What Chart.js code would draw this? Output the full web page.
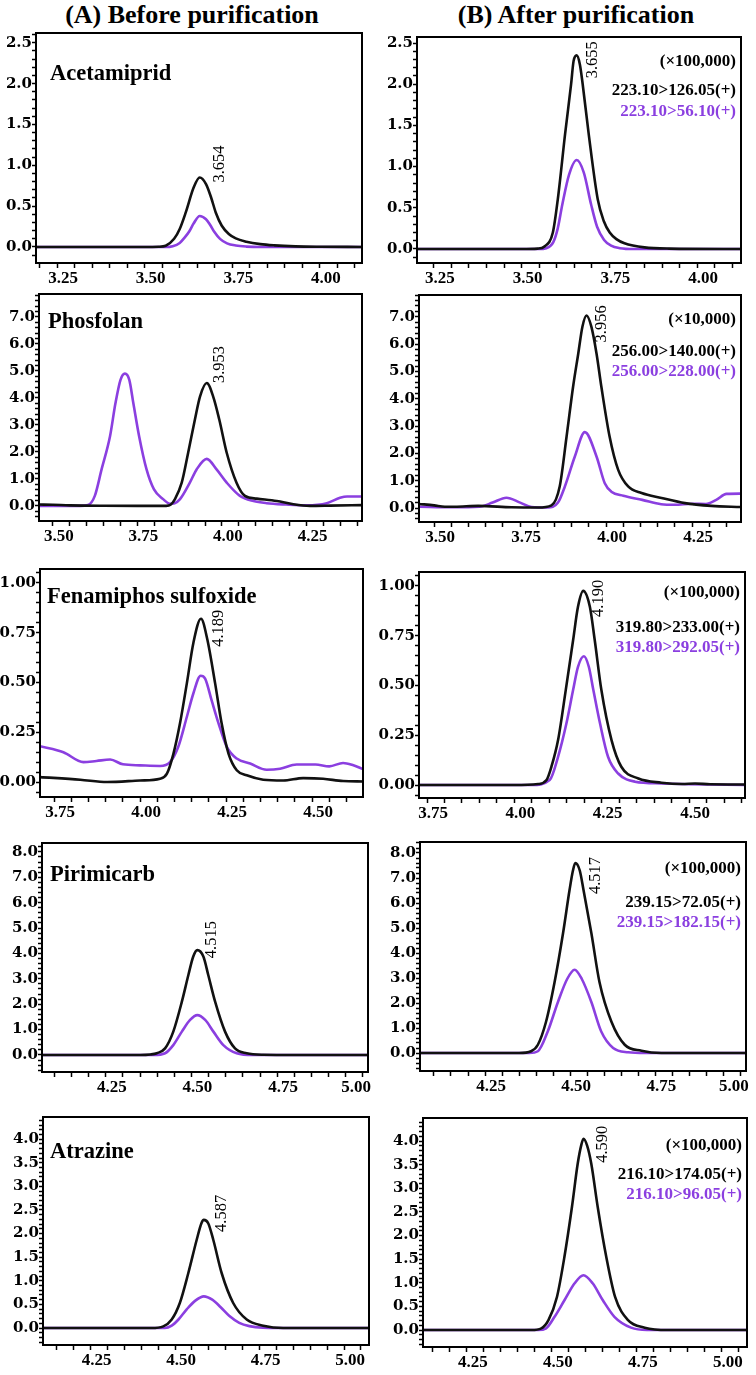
<!DOCTYPE html>
<html><head><meta charset="utf-8">
<script src="https://cdn.jsdelivr.net/npm/chart.js@4.4.1/dist/chart.umd.min.js"></script>
<style>
html,body{margin:0;padding:0;background:#fff;}
body{width:756px;height:1375px;position:relative;overflow:hidden;font-family:"Liberation Serif","Times New Roman",serif;}
.title{position:absolute;top:1px;font-weight:bold;font-size:26px;text-align:center;width:378px;line-height:28px;color:#000;white-space:nowrap;}
canvas{position:absolute;}
</style></head><body>
<div class="title" style="left:3px">(A) Before purification</div>
<div class="title" style="left:387px">(B) After purification</div>
<script>
// ---------- tick labels ----------
const xLabelsRow1 = ['3.25','3.50','3.75','4.00'];
const xLabelsRow2 = ['3.50','3.75','4.00','4.25'];
const xLabelsRow3 = ['3.75','4.00','4.25','4.50'];
const xLabelsRow4 = ['4.25','4.50','4.75','5.00'];
const xLabelsRow5 = ['4.25','4.50','4.75','5.00'];
const yLabelsRow1 = ['0.0','0.5','1.0','1.5','2.0','2.5'];
const yLabelsRow2 = ['0.0','1.0','2.0','3.0','4.0','5.0','6.0','7.0'];
const yLabelsRow3 = ['0.00','0.25','0.50','0.75','1.00'];
const yLabelsRow4 = ['0.0','1.0','2.0','3.0','4.0','5.0','6.0','7.0','8.0'];
const yLabelsRow5 = ['0.0','0.5','1.0','1.5','2.0','2.5','3.0','3.5','4.0'];

// ---------- compounds / texts ----------
const compounds = ['Acetamiprid','Phosfolan','Fenamiphos sulfoxide','Pirimicarb','Atrazine'];
const peakLabelsBefore = ['3.654','3.953','4.189','4.515','4.587'];
const peakLabelsAfter  = ['3.655','3.956','4.190','4.517','4.590'];
const scaleFactors = ['(×100,000)','(×10,000)','(×100,000)','(×100,000)','(×100,000)'];
const quantTransitions = ['223.10>126.05(+)','256.00>140.00(+)','319.80>233.00(+)','239.15>72.05(+)','216.10>174.05(+)'];
const qualTransitions  = ['223.10>56.10(+)','256.00>228.00(+)','319.80>292.05(+)','239.15>182.15(+)','216.10>96.05(+)'];

// ---------- series (retention time, intensity) ----------
const acetBeforeQ = [[3.19,0],[3.50,0],[3.54,0.003],[3.56,0.015],[3.584,0.1],[3.60,0.22],[3.617,0.42],[3.64,0.73],[3.657,0.85],[3.675,0.77],[3.69,0.60],[3.703,0.42],[3.72,0.26],[3.74,0.16],[3.76,0.105],[3.79,0.065],[3.83,0.035],[3.87,0.02],[3.93,0.008],[4.0,0.003],[4.12,0]];
const acetBeforeR = [[3.19,0],[3.56,0],[3.58,0.01],[3.60,0.05],[3.615,0.12],[3.627,0.19],[3.64,0.29],[3.657,0.38],[3.675,0.34],[3.687,0.27],[3.698,0.19],[3.715,0.10],[3.735,0.045],[3.76,0.018],[3.79,0.005],[3.83,0],[4.12,0]];
const acetAfterQ = [[3.20,0],[3.50,0],[3.546,0.005],[3.565,0.03],[3.589,0.2],[3.603,0.6],[3.624,1.4],[3.641,2.0],[3.648,2.28],[3.657,2.35],[3.666,2.24],[3.674,2.0],[3.691,1.4],[3.717,0.6],[3.734,0.34],[3.751,0.2],[3.77,0.12],[3.793,0.07],[3.85,0.02],[3.92,0.005],[4.125,0]];
const acetAfterR = [[3.20,0],[3.55,0],[3.57,0.01],[3.59,0.08],[3.603,0.25],[3.616,0.54],[3.635,0.90],[3.657,1.08],[3.677,0.93],[3.698,0.54],[3.715,0.27],[3.735,0.11],[3.755,0.04],[3.78,0.01],[3.82,0],[4.125,0]];

const phosBeforeQ = [[3.459,0.05],[3.50,0.04],[3.55,0.02],[3.65,0.005],[3.75,0],[3.835,0.0],[3.848,0.04],[3.861,0.25],[3.881,0.86],[3.90,1.97],[3.92,3.2],[3.935,4.05],[3.955,4.55],[3.974,4.05],[3.992,3.2],[4.014,1.97],[4.043,0.86],[4.068,0.37],[4.103,0.27],[4.162,0.18],[4.211,0.06],[4.26,0.0],[4.32,0.01],[4.414,0.03]];
const phosBeforeR = [[3.459,0],[3.58,0],[3.604,0.03],[3.624,0.37],[3.644,1.35],[3.669,2.58],[3.685,3.8],[3.70,4.67],[3.713,4.9],[3.726,4.67],[3.738,3.8],[3.755,2.58],[3.777,1.35],[3.799,0.61],[3.826,0.25],[3.846,0.08],[3.86,0.1],[3.876,0.25],[3.905,0.86],[3.925,1.35],[3.955,1.74],[3.984,1.35],[4.014,0.86],[4.053,0.37],[4.093,0.18],[4.132,0.1],[4.19,0.05],[4.25,0.02],[4.31,0.1],[4.349,0.3],[4.37,0.35],[4.414,0.35]];
const phosAfterQ = [[3.456,0.15],[3.50,0.1],[3.531,0.05],[3.56,0.05],[3.628,0.08],[3.725,0.03],[3.802,0.02],[3.841,0.1],[3.865,0.79],[3.885,2.62],[3.904,4.45],[3.919,5.66],[3.931,6.64],[3.943,7.05],[3.957,6.64],[3.972,5.66],[3.986,4.45],[4.01,2.62],[4.035,1.4],[4.064,0.79],[4.103,0.55],[4.161,0.37],[4.229,0.18],[4.306,0.08],[4.392,0.04]];
const phosAfterR = [[3.456,0.05],[3.55,0.03],[3.632,0.05],[3.67,0.2],[3.71,0.38],[3.75,0.2],[3.783,0.04],[3.83,0.02],[3.86,0.2],[3.88,0.79],[3.909,1.89],[3.938,2.78],[3.972,1.89],[3.996,0.91],[4.015,0.6],[4.05,0.45],[4.105,0.3],[4.16,0.14],[4.2,0.12],[4.25,0.16],[4.29,0.15],[4.32,0.3],[4.35,0.52],[4.392,0.53]];

const fenaBeforeQ = [[3.709,0.025],[3.826,0.012],[3.904,0],[4.00,0.008],[4.058,0.017],[4.078,0.042],[4.097,0.143],[4.116,0.295],[4.136,0.497],[4.155,0.70],[4.177,0.82],[4.195,0.72],[4.218,0.497],[4.237,0.295],[4.257,0.143],[4.281,0.059],[4.31,0.034],[4.358,0.012],[4.416,0.008],[4.474,0.02],[4.532,0.017],[4.59,0.005],[4.648,0.003]];
const fenaBeforeR = [[3.709,0.18],[3.777,0.15],[3.835,0.10],[3.873,0.106],[3.913,0.113],[3.95,0.089],[4.00,0.084],[4.058,0.081],[4.087,0.10],[4.111,0.177],[4.136,0.328],[4.155,0.446],[4.176,0.534],[4.189,0.52],[4.208,0.41],[4.228,0.295],[4.252,0.177],[4.281,0.118],[4.32,0.093],[4.368,0.062],[4.407,0.067],[4.455,0.088],[4.51,0.088],[4.55,0.079],[4.59,0.096],[4.62,0.084],[4.648,0.065]];
const fenaAfterQ = [[3.727,0],[4.0,0],[4.068,0.005],[4.092,0.025],[4.106,0.092],[4.125,0.226],[4.147,0.477],[4.168,0.727],[4.182,0.895],[4.197,0.975],[4.216,0.895],[4.23,0.727],[4.249,0.477],[4.278,0.226],[4.306,0.092],[4.355,0.033],[4.421,0.012],[4.48,0.005],[4.517,0.008],[4.56,0.004],[4.66,0.003]];
const fenaAfterR = [[3.727,0],[4.05,0],[4.101,0.025],[4.125,0.142],[4.149,0.31],[4.168,0.477],[4.182,0.594],[4.199,0.647],[4.213,0.594],[4.226,0.477],[4.245,0.31],[4.268,0.142],[4.297,0.058],[4.345,0.017],[4.421,0.008],[4.5,0.004],[4.66,0]];

const piriBeforeQ = [[4.064,0],[4.35,0],[4.38,0.02],[4.399,0.07],[4.423,0.26],[4.447,0.92],[4.472,2.1],[4.491,3.15],[4.505,3.87],[4.517,4.13],[4.535,3.87],[4.549,3.15],[4.569,2.1],[4.598,0.92],[4.627,0.26],[4.661,0.07],[4.71,0.01],[4.8,0],[5.015,0]];
const piriBeforeR = [[4.064,0],[4.39,0],[4.423,0.07],[4.447,0.39],[4.472,0.92],[4.496,1.38],[4.517,1.57],[4.54,1.38],[4.564,0.92],[4.593,0.39],[4.632,0.07],[4.68,0],[5.015,0]];
const piriAfterQ = [[4.059,0],[4.35,0],[4.385,0.07],[4.405,0.33],[4.429,1.25],[4.454,2.83],[4.479,4.8],[4.498,6.52],[4.508,7.3],[4.515,7.6],[4.528,7.3],[4.539,6.52],[4.562,4.8],[4.586,2.83],[4.621,1.25],[4.66,0.33],[4.709,0.09],[4.768,0],[5.016,0]];
const piriAfterR = [[4.059,0],[4.38,0],[4.405,0.07],[4.434,0.86],[4.464,2.04],[4.491,2.96],[4.513,3.33],[4.534,2.96],[4.562,2.04],[4.591,0.86],[4.626,0.2],[4.67,0.03],[4.72,0],[5.016,0]];

const atraBeforeQ = [[4.109,0],[4.43,0],[4.465,0.035],[4.49,0.18],[4.514,0.53],[4.539,1.16],[4.564,1.87],[4.578,2.22],[4.585,2.29],[4.598,2.22],[4.613,1.87],[4.638,1.16],[4.672,0.53],[4.712,0.18],[4.761,0.05],[4.82,0],[5.074,0]];
const atraBeforeR = [[4.109,0],[4.47,0],[4.49,0.05],[4.51,0.18],[4.535,0.40],[4.56,0.58],[4.585,0.67],[4.61,0.6],[4.635,0.44],[4.66,0.26],[4.69,0.11],[4.72,0.04],[4.76,0.005],[4.80,0],[5.074,0]];
const atraAfterQ = [[4.121,0],[4.44,0],[4.469,0.035],[4.49,0.21],[4.515,0.7],[4.537,1.55],[4.559,2.6],[4.576,3.52],[4.586,3.9],[4.593,4.05],[4.604,3.9],[4.616,3.52],[4.635,2.6],[4.66,1.55],[4.686,0.7],[4.724,0.21],[4.773,0.05],[4.841,0],[5.074,0]];
const atraAfterR = [[4.121,0],[4.46,0],[4.483,0.035],[4.508,0.28],[4.537,0.63],[4.567,0.99],[4.593,1.16],[4.62,0.99],[4.65,0.63],[4.684,0.28],[4.733,0.05],[4.78,0],[5.074,0]];

// ---------- styling / layout ----------
const FONT = '"Liberation Serif","Times New Roman",serif';
const YFONT = '"DejaVu Serif","Liberation Serif",serif';
const BLACK = '#111111';
const PURPLE = '#8b3fe0';

const panels = [
  {col:0,row:0,box:[36,33,362,263], x:[3.19,4.12], y:[-0.196,2.62], yStep:0.1, xl:xLabelsRow1, yl:yLabelsRow1, q:acetBeforeQ, r:acetBeforeR, pk:peakLabelsBefore[0], pkOff:[20,5], name:compounds[0], nameOff:[14,47]},
  {col:1,row:0,box:[417,37,741,263], x:[3.202,4.125], y:[-0.17,2.573], yStep:0.1, xl:xLabelsRow1, yl:yLabelsRow1, q:acetAfterQ, r:acetAfterR, pk:peakLabelsAfter[0], pkOff:[16,23], txtOff:[25,54,75]},
  {col:0,row:1,box:[39,294,362,521], x:[3.459,4.414], y:[-0.56,7.85], yStep:0.2, xl:xLabelsRow2, yl:yLabelsRow2, q:phosBeforeQ, r:phosBeforeR, pk:peakLabelsBefore[1], pkOff:[13,0], name:compounds[1], nameOff:[9,34]},
  {col:1,row:1,box:[419,295,741,522], x:[3.456,4.392], y:[-0.51,7.8], yStep:0.2, xl:xLabelsRow2, yl:yLabelsRow2, q:phosAfterQ, r:phosAfterR, pk:peakLabelsAfter[1], pkOff:[15,27], txtOff:[25,57,77]},
  {col:0,row:2,box:[40,569,363,797], x:[3.709,4.648], y:[-0.075,1.07], yStep:0.05, xl:xLabelsRow3, yl:yLabelsRow3, q:fenaBeforeQ, r:fenaBeforeR, pk:peakLabelsBefore[2], pkOff:[18,28], name:compounds[2], nameOff:[7,34]},
  {col:1,row:2,box:[419,572,745,798], x:[3.727,4.66], y:[-0.065,1.07], yStep:0.05, xl:xLabelsRow3, yl:yLabelsRow3, q:fenaAfterQ, r:fenaAfterR, pk:peakLabelsAfter[2], pkOff:[15,26], txtOff:[21,56,76]},
  {col:0,row:3,box:[42,843,368,1072], x:[4.064,5.015], y:[-0.67,8.35], yStep:0.2, xl:xLabelsRow4, yl:yLabelsRow4, q:piriBeforeQ, r:piriBeforeR, pk:peakLabelsBefore[3], pkOff:[14,8], name:compounds[3], nameOff:[8,38], edgeLabel:true},
  {col:1,row:3,box:[420,842,746,1071], x:[4.059,5.016], y:[-0.72,8.44], yStep:0.2, xl:xLabelsRow4, yl:yLabelsRow4, q:piriAfterQ, r:piriAfterR, pk:peakLabelsAfter[3], pkOff:[20,31], txtOff:[27,61,81], edgeLabel:true},
  {col:0,row:4,box:[43,1117,369,1345], x:[4.109,5.074], y:[-0.36,4.47], yStep:0.1, xl:xLabelsRow5, yl:yLabelsRow5, q:atraBeforeQ, r:atraBeforeR, pk:peakLabelsBefore[4], pkOff:[18,12], name:compounds[4], nameOff:[7,41]},
  {col:1,row:4,box:[423,1118,747,1347], x:[4.121,5.074], y:[-0.36,4.49], yStep:0.1, xl:xLabelsRow5, yl:yLabelsRow5, q:atraAfterQ, r:atraAfterR, pk:peakLabelsAfter[4], pkOff:[19,24], txtOff:[28,57,77]}
];

function labelFor(list, v){
  for (const s of list){ if (Math.abs(parseFloat(s) - v) < 1e-6) return s; }
  return '';
}

const framePlugin = {
  id:'frame',
  afterDatasetsDraw(chart){
    const a = chart.chartArea, ctx = chart.ctx;
    ctx.save();
    ctx.strokeStyle = '#000'; ctx.lineWidth = 2;
    ctx.strokeRect(a.left, a.top, a.right - a.left, a.bottom - a.top);
    ctx.restore();
  },
  afterDraw(chart){
    const p = chart.options.plugins.frame.panel;
    const a = chart.chartArea, ctx = chart.ctx;
    const xs = chart.scales.x, ys = chart.scales.y;
    ctx.save();
    ctx.fillStyle = '#000';
    if (p.name){
      ctx.font = 'bold 22.5px ' + FONT;
      ctx.textAlign = 'left'; ctx.textBaseline = 'alphabetic';
      ctx.fillText(p.name, a.left + p.nameOff[0], a.top + p.nameOff[1]);
    }
    let best = p.q[0];
    for (const pt of p.q) if (pt[1] > best[1]) best = pt;
    const px = xs.getPixelForValue(best[0]), py = ys.getPixelForValue(best[1]);
    ctx.save();
    ctx.translate(px + p.pkOff[0], py + p.pkOff[1]);
    ctx.rotate(-Math.PI/2);
    ctx.font = '16.5px ' + FONT;
    ctx.textAlign = 'left'; ctx.textBaseline = 'middle';
    ctx.fillText(p.pk, 0, 0);
    ctx.restore();
    if (p.txtOff){
      ctx.font = 'bold 17px ' + FONT;
      ctx.textAlign = 'right'; ctx.textBaseline = 'middle';
      const xr = a.right - 5;
      ctx.fillStyle = '#000';
      ctx.fillText(scaleFactors[p.row], xr, a.top + p.txtOff[0]);
      ctx.fillText(quantTransitions[p.row], xr, a.top + p.txtOff[1]);
      ctx.fillStyle = PURPLE;
      ctx.fillText(qualTransitions[p.row], xr, a.top + p.txtOff[2]);
    }
    ctx.restore();
  }
};

function makeChart(p){
  const [bl, bt, br, bb] = p.box;
  const cLeft = p.col * 378, cTop = bt - 12, cW = 378, cH = bb - bt + 42;
  const cv = document.createElement('canvas');
  cv.width = cW; cv.height = cH;
  cv.style.left = cLeft + 'px'; cv.style.top = cTop + 'px';
  cv.style.width = cW + 'px'; cv.style.height = cH + 'px';
  document.body.appendChild(cv);
  const padTop = bt - cTop, padRight = (cLeft + cW) - br;
  const yW = bl - cLeft, xH = cH - (bb - cTop);
  const lastX = p.xl[p.xl.length - 1];
  new Chart(cv.getContext('2d'), {
    type: 'line',
    data: {datasets: [
      {label:'quantifier', data: p.q.map(([x,y]) => ({x, y})), borderColor: BLACK, borderWidth: 2.6, pointRadius: 0, cubicInterpolationMode: 'monotone', fill: false},
      {label:'qualifier', data: p.r.map(([x,y]) => ({x, y})), borderColor: PURPLE, borderWidth: 2.6, pointRadius: 0, cubicInterpolationMode: 'monotone', fill: false}
    ]},
    options: {
      responsive: false, animation: false, devicePixelRatio: 1,
      layout: {padding: {top: padTop, right: padRight, left: 0, bottom: 0}},
      plugins: {legend: {display: false}, tooltip: {enabled: false}, frame: {panel: p}},
      scales: {
        x: {
          type: 'linear', min: p.x[0], max: p.x[1],
          afterFit: s => { s.height = xH; s.paddingLeft = 0; s.paddingRight = 0; },
          grid: {drawOnChartArea: false, drawTicks: true, tickLength: 5, tickColor: '#000', tickWidth: 1.5},
          border: {display: false},
          ticks: {stepSize: 0.05, autoSkip: false, maxRotation: 0, minRotation: 0, includeBounds: false,
                  labelOffset: 6, padding: 0, color: '#000', font: {family: FONT, size: 17, weight: 'bold'},
                  callback: v => {
                    const s = labelFor(p.xl, v);
                    return (p.edgeLabel && s === lastX) ? s + '\u2003\u2002' : s;
                  }}
        },
        y: {
          type: 'linear', min: p.y[0], max: p.y[1],
          afterFit: s => { s.width = yW; s.paddingTop = 0; s.paddingBottom = 0; },
          grid: {drawOnChartArea: false, drawTicks: true, tickLength: 4, tickColor: '#000', tickWidth: 1.5},
          border: {display: false},
          ticks: {stepSize: p.yStep, autoSkip: false, includeBounds: false, padding: 0, color: '#000',
                  font: {family: YFONT, size: 15, weight: 'bold'},
                  callback: v => labelFor(p.yl, v)}
        }
      }
    },
    plugins: [framePlugin]
  });
}

panels.forEach(makeChart);
</script>
</body></html>
